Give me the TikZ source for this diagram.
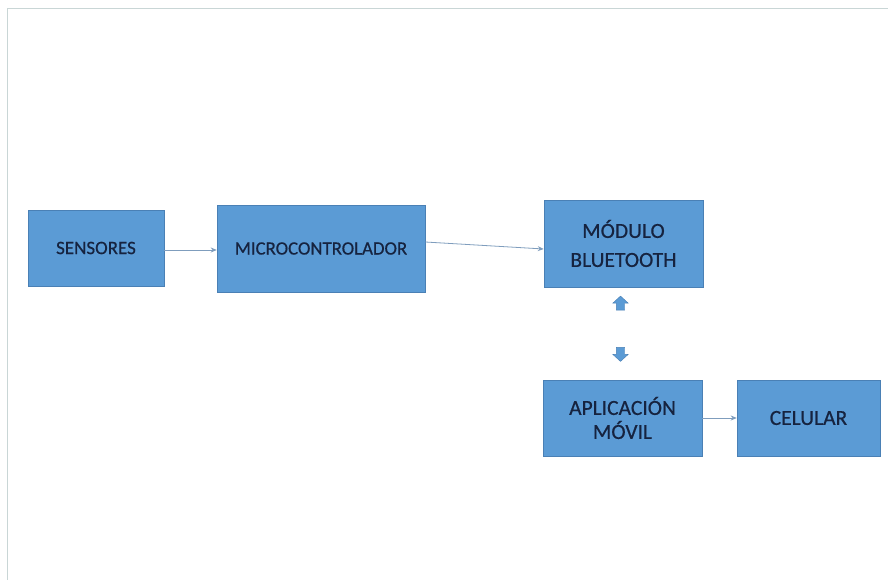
\documentclass[tikz,border=0pt]{standalone}
\usepackage{fontspec}
\setmainfont{Carlito}[FakeBold=0.5]
\usetikzlibrary{arrows.meta,shapes.arrows}
\definecolor{boxfill}{HTML}{5B9BD5}
\definecolor{boxline}{HTML}{4A80B5}
\definecolor{txt}{HTML}{16233F}
\definecolor{frame}{HTML}{C9D6D6}
\definecolor{arr}{HTML}{7F9DBD}
\tikzset{
  blk/.style={draw=boxline, line width=0.6pt, fill=boxfill, text=txt, align=center, inner sep=0pt},
  conn/.style={draw=arr, line width=0.8pt, -{Stealth[length=6pt,width=5pt]}},
  barrow/.style={single arrow, fill=boxfill, draw=boxline, line width=0.4pt, minimum width=15pt, single arrow head extend=3.5pt, single arrow tip angle=95, inner xsep=4pt, inner ysep=0pt, minimum height=14pt}
}
\begin{document}
\begin{tikzpicture}[x=1pt,y=-1pt]
\useasboundingbox (0,0) rectangle (888,580);
\fill[white] (0,0) rectangle (888,580);
\draw[frame, line width=1.2pt] (7.5,580) -- (7.5,8.5) -- (888,8.5);
\node[blk, minimum width=136pt, minimum height=76pt, font=\fontsize{19}{22}\selectfont] (sens) at (96,248) {SENSORES};
\node[blk, minimum width=208pt, minimum height=87pt, font=\fontsize{18.8}{22}\selectfont] (micro) at (321,248.5) {MICROCONTROLADOR};
\node[blk, minimum width=159pt, minimum height=87pt, font=\fontsize{21.5}{29}\selectfont] (blue) at (623.5,243.5) {MÓDULO\\BLUETOOTH};
\node[blk, minimum width=159pt, minimum height=76pt, font=\fontsize{21.5}{24}\selectfont] (app) at (622.5,418) {APLICACIÓN\\MÓVIL};
\node[blk, minimum width=143pt, minimum height=76pt, font=\fontsize{21.5}{24}\selectfont] (cel) at (808.5,418) {CELULAR};
\draw[conn] (sens.east |- 0,250) -- (micro.west |- 0,250);
\draw[conn] (micro.east |- 0,242) -- (blue.west |- 0,249);
\draw[conn] (app.east) -- (cel.west);
\node[barrow, shape border rotate=90] (up) at (620.5,305) {};
\node[barrow, shape border rotate=270] (down) at (620.5,352.5) {};
\end{tikzpicture}
\end{document}
